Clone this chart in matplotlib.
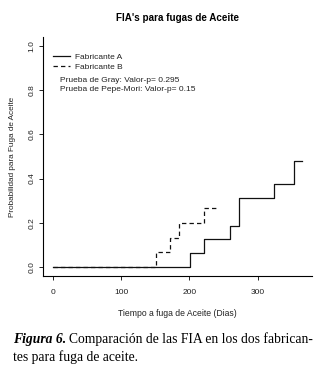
import matplotlib
matplotlib.use("Agg")
import matplotlib.pyplot as plt

# Data (cumulative incidence step functions)
a_times = [0, 201, 222, 259, 273, 324, 353, 365]
a_vals = [0.0, 0.0625, 0.125, 0.1875, 0.3125, 0.375, 0.48, 0.48]
b_times = [0, 151, 172, 185, 221, 242]
b_vals = [0.0, 0.0667, 0.1333, 0.2, 0.2667, 0.2667]

xticks = [0, 100, 200, 300]
yticks = [0.0, 0.2, 0.4, 0.6, 0.8, 1.0]

title = "FIA's para fugas de Aceite"
xlabel = "Tiempo a fuga de Aceite (Dias)"
ylabel = "Probabilidad para Fuga de Aceite"
legend_labels = ["Fabricante A", "Fabricante B"]
test_lines = ["Prueba de Gray: Valor-p= 0.295", "Prueba de Pepe-Mori: Valor-p= 0.15"]

plt.rcParams['font.family'] = ['Liberation Sans', 'DejaVu Sans']

fig = plt.figure(figsize=(3.2, 3.68), dpi=100)
ax = fig.add_axes([0.134, 0.25, 0.841, 0.6495])

ax.step(a_times, a_vals, where='post', color='#111111', lw=0.9, label=legend_labels[0])
ax.step(b_times, b_vals, where='post', color='#111111', lw=0.9, ls=(0, (3.5, 2.5)), label=legend_labels[1])

ax.set_xlim(-14.6, 379.6)
ax.set_ylim(-0.04, 1.04)
ax.set_xticks(xticks)
ax.set_yticks(yticks)
ax.set_xticklabels([str(t) for t in xticks])
ax.set_yticklabels([f"{t:.1f}" for t in yticks], rotation=90, va='center')
for s in ['top', 'right']:
    ax.spines[s].set_visible(False)
for s in ['left', 'bottom']:
    ax.spines[s].set_linewidth(0.8)
ax.tick_params(direction='out', length=3, width=0.7, labelsize=6, colors='#222222')
ax.tick_params(axis='x', pad=6)
ax.tick_params(axis='y', pad=2.5)

ax.set_xlabel(xlabel, fontsize=6.2, labelpad=10, color='#222222')
ax.set_ylabel(ylabel, fontsize=5.9, labelpad=9, color='#222222')
fig.text(0.555, 0.951, title, ha='center', va='center', fontsize=7.1, fontweight='bold')

leg = ax.legend(loc='center left', bbox_to_anchor=(0.025, 0.895), frameon=False, fontsize=6,
                handlelength=2.0, handletextpad=0.7, labelspacing=0.35, borderaxespad=0)
for t in leg.get_texts():
    t.set_color('#222222')
ax.text(0.063, 0.82, test_lines[0], transform=ax.transAxes, fontsize=6, color='#222222', va='center')
ax.text(0.063, 0.782, test_lines[1], transform=ax.transAxes, fontsize=6, color='#222222', va='center')

# Caption
t1 = fig.text(13/320, 1 - 343/368, "Figura 6.", fontsize=9.8, family='Liberation Serif',
              fontweight='bold', fontstyle='italic', va='baseline')
fig.canvas.draw()
bb = t1.get_window_extent()
fig.text((bb.x1 + 3)/320, 1 - 343/368, "Comparación de las FIA en los dos fabrican-", fontsize=9.8,
         family='Liberation Serif', va='baseline')
fig.text(13/320, 1 - 361/368, "tes para fuga de aceite.", fontsize=9.8,
         family='Liberation Serif', va='baseline')

fig.savefig("out.png", dpi=100)
